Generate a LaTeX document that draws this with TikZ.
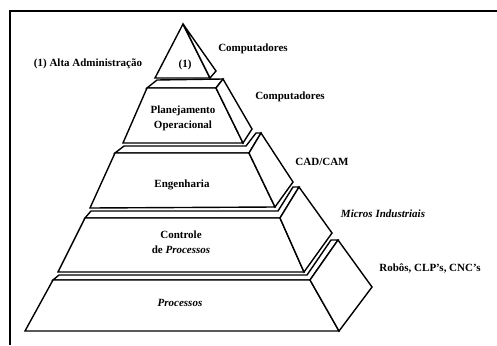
\documentclass[tikz,border=0pt]{standalone}
\usepackage{fontspec}
\setmainfont{Liberation Serif}
\begin{document}
\begin{tikzpicture}[x=1pt,y=-1pt,
  face/.style={draw=black,fill=white,line width=1.4pt,line join=miter},
  lbl/.style={font=\fontsize{11}{15}\selectfont\bfseries,inner sep=0pt,align=center},
  ilbl/.style={font=\fontsize{11}{15}\selectfont\bfseries\itshape,inner sep=0pt,align=center}]
\useasboundingbox (0,0) rectangle (497,345);
% frame
\coordinate (fa) at (10,345);
\coordinate (fb) at (10,11);
\coordinate (fc) at (497,11);
\draw[line width=1.6pt] (fa) -- (fb) -- (fc);

% ---------- level 5 : Processos ----------
\coordinate (FL5) at (53,280); \coordinate (FR5) at (310,280);
\coordinate (BR5) at (339,331); \coordinate (BL5) at (25,331);
\coordinate (T5) at (338,240); \coordinate (R5) at (372,287);
\coordinate (K5a) at (331,240); \coordinate (K5b) at (307,275); \coordinate (K5c) at (59,275);
\draw[face] (FL5) -- (FR5) -- (T5) -- (K5a) -- (K5b) -- (K5c) -- cycle;
\draw[face] (FL5) -- (FR5) -- (BR5) -- (BL5) -- cycle;
\draw[face] (FR5) -- (T5) -- (R5) -- (BR5) -- cycle;

% ---------- level 4 : Controle ----------
\coordinate (FL4) at (85,218); \coordinate (FR4) at (280,218);
\coordinate (BR4) at (304,272); \coordinate (BL4) at (58,272);
\coordinate (T4) at (299,187); \coordinate (R4) at (332,233);
\coordinate (K4a) at (293,187); \coordinate (K4b) at (278,211); \coordinate (K4c) at (91,211);
\draw[face] (FL4) -- (FR4) -- (T4) -- (K4a) -- (K4b) -- (K4c) -- cycle;
\draw[face] (FL4) -- (FR4) -- (BR4) -- (BL4) -- cycle;
\draw[face] (FR4) -- (T4) -- (R4) -- (BR4) -- cycle;

% ---------- level 3 : Engenharia ----------
\coordinate (FL3) at (115,153); \coordinate (FR3) at (249,153);
\coordinate (BR3) at (275,207); \coordinate (BL3) at (90,208);
\coordinate (T3) at (261,133); \coordinate (R3) at (293,182);
\coordinate (K3a) at (256,133); \coordinate (K3b) at (246,146); \coordinate (K3c) at (124,146);
\draw[face] (FL3) -- (FR3) -- (T3) -- (K3a) -- (K3b) -- (K3c) -- cycle;
\draw[face] (FL3) -- (FR3) -- (BR3) -- (BL3) -- cycle;
\draw[face] (FR3) -- (T3) -- (R3) -- (BR3) -- cycle;

% ---------- level 2 : Planejamento ----------
\coordinate (FL2) at (147,88); \coordinate (FR2) at (216,88);
\coordinate (BR2) at (243,143); \coordinate (BL2) at (123,143);
\coordinate (T2) at (223,79); \coordinate (R2) at (252,129);
\coordinate (K2c) at (157,80);
\draw[face] (FL2) -- (FR2) -- (T2) -- (K2c) -- cycle;
\draw[face] (FL2) -- (FR2) -- (BR2) -- (BL2) -- cycle;
\draw[face] (FR2) -- (T2) -- (R2) -- (BR2) -- cycle;

% ---------- level 1 : apex ----------
\coordinate (A1) at (183,24); \coordinate (BL1) at (155,78);
\coordinate (BR1) at (210,78); \coordinate (R1) at (216,71);
\draw[face] (A1) -- (BR1) -- (BL1) -- cycle;
\draw[face] (A1) -- (R1) -- (BR1) -- cycle;

% ---------- labels ----------
\node[lbl] (alta) at (88,64) {(1) Alta Administração};
\node[lbl] (um) at (185,65) {(1)};
\node[lbl] (comp1) at (253,49) {Computadores};
\node[lbl] (comp2) at (290,97) {Computadores};
\node[lbl] (plan) at (183,118) {Planejamento\\Operacional};
\node[lbl] (eng) at (182,185) {Engenharia};
\node[lbl] (cad) at (322,162) {CAD/CAM};
\node[ilbl] (micros) at (383,214) {Micros Industriais};
\node[lbl] (ctrl) at (181,242) {Controle\\de \textit{Processos}};
\node[ilbl] (proc) at (180,303) {Processos};
\node[lbl] (robos) at (430,268) {Robôs, CLP's, CNC's};
\end{tikzpicture}
\end{document}
